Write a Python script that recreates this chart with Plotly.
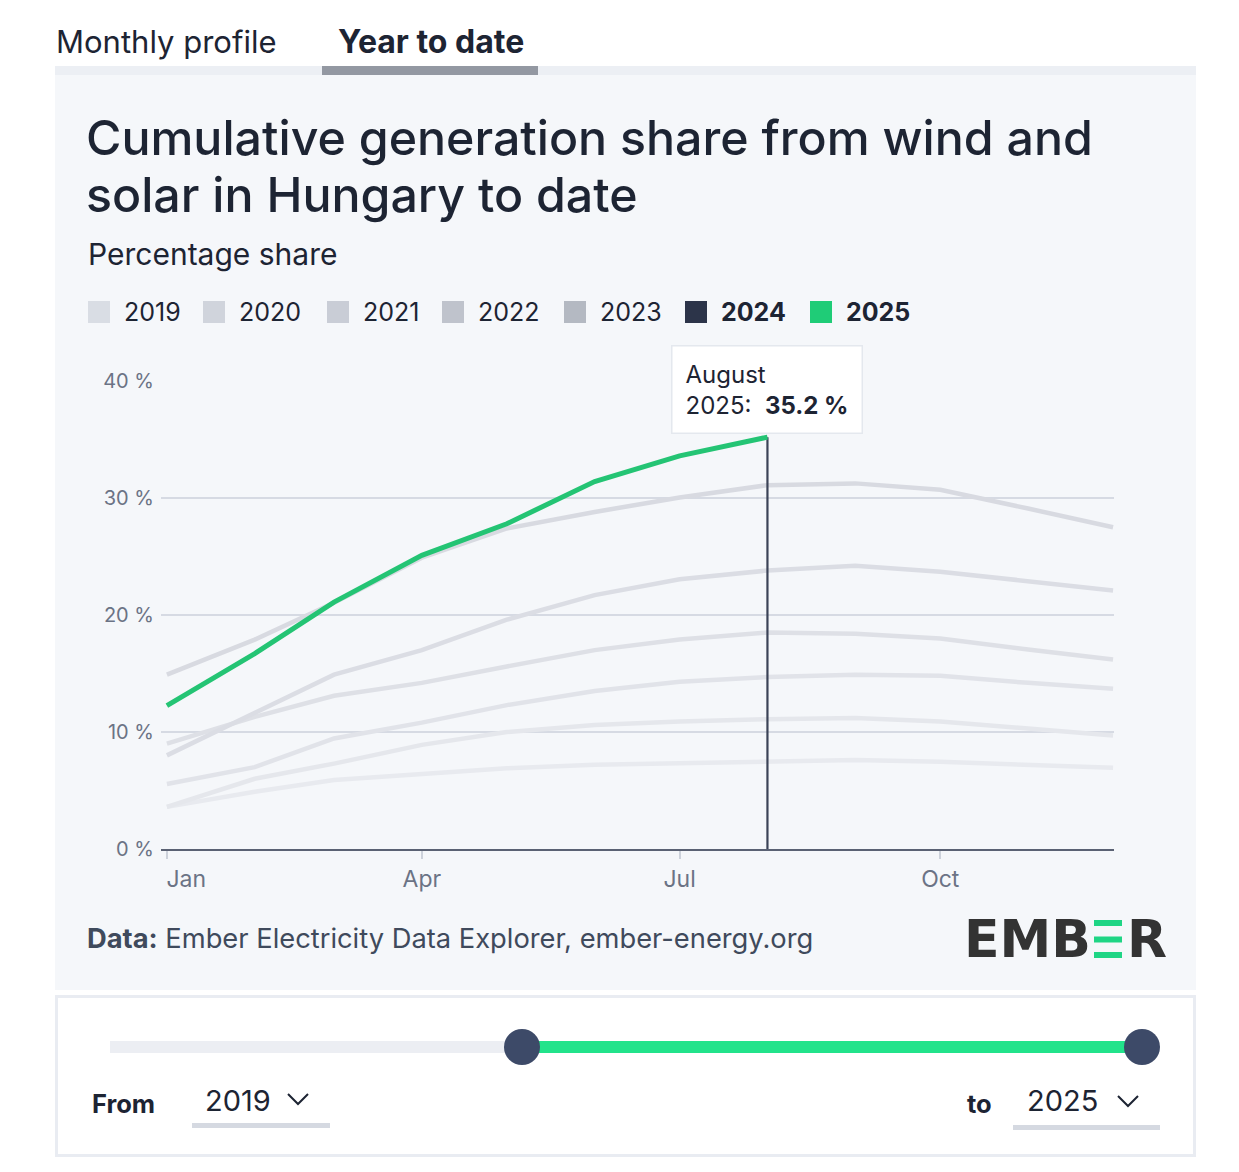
import plotly.graph_objects as go

WF, HF = 1223, 1156      # figure size (page body has an 8px margin)
OFF = 8
FONT = "Inter"

# ---------------- data ----------------
months = ["2025-01-01", "2025-02-01", "2025-03-01", "2025-04-01", "2025-05-01", "2025-06-01",
          "2025-07-01", "2025-08-01", "2025-09-01", "2025-10-01", "2025-11-01", "2025-12-01"]
month_names = ["January", "February", "March", "April", "May", "June", "July",
               "August", "September", "October", "November", "December"]
years = ["2019", "2020", "2021", "2022", "2023", "2024", "2025"]

share_2019 = [3.6, 4.9, 5.9, 6.45, 6.9, 7.2, 7.3, 7.45, 7.6, 7.45, 7.2, 6.95]
share_2020 = [3.6, 6.0, 7.3, 8.9, 10.0, 10.6, 10.9, 11.1, 11.2, 10.9, 10.3, 9.7]
share_2021 = [5.55, 7.0, 9.45, 10.8, 12.3, 13.5, 14.3, 14.7, 14.9, 14.8, 14.2, 13.7]
share_2022 = [9.0, 11.3, 13.1, 14.2, 15.6, 17.0, 17.9, 18.5, 18.4, 18.0, 17.05, 16.2]
share_2023 = [8.0, 11.6, 14.9, 17.0, 19.6, 21.7, 23.05, 23.8, 24.2, 23.7, 22.9, 22.1]
share_2024 = [14.9, 17.9, 21.05, 24.9, 27.4, 28.8, 30.05, 31.1, 31.25, 30.7, 29.1, 27.5]
share_2025 = [12.25, 16.7, 21.1, 25.1, 27.8, 31.4, 33.6, 35.2]

series = [share_2019, share_2020, share_2021, share_2022, share_2023, share_2024, share_2025]

y_tickvals = [0, 10, 20, 30, 40]
y_ticktext = ["0 %", "10 %", "20 %", "30 %", "40 %"]
x_tickvals = ["2025-01-01", "2025-04-01", "2025-07-01", "2025-10-01"]
x_ticktext = ["\u00a0\u00a0\u00a0\u00a0\u00a0\u00a0Jan", "Apr", "Jul", "Oct"]

# ---------------- styles ----------------
line_colors = ["#e8eaef", "#e5e7ec", "#e1e3e9", "#dee0e6", "#dbdde4", "#d8dae1"]
legend_colors = ["#d9dde4", "#d0d4dc", "#c9cdd6", "#bfc3cc", "#b4b9c2", "#2c3449", "#1fcc77"]
GREEN = "#24c474"
DARK = "#1d2433"


def px(x):
    return (x - OFF) / WF


def py(y):
    return 1 - (y - OFF) / HF


fig = go.Figure()

for yr, vals, col in zip(years[:-1], series[:-1], line_colors):
    fig.add_trace(go.Scatter(x=months[:len(vals)], y=vals, mode="lines", name=yr,
                             line=dict(color=col, width=4.5), showlegend=False,
                             hoverinfo="skip"))

last_i = len(share_2025) - 1
fig.add_trace(go.Scatter(x=[months[last_i], months[last_i]], y=[0, share_2025[last_i]],
                         mode="lines", line=dict(color="#3b4357", width=2.2),
                         showlegend=False, hoverinfo="skip"))
fig.add_trace(go.Scatter(x=months[:len(share_2025)], y=share_2025, mode="lines", name="2025",
                         line=dict(color=GREEN, width=5), showlegend=False))

shapes = []
annotations = []


def text(t, x, y, size, color=DARK, anchor="left", family=FONT, weight=None):
    f = dict(family=family, size=size, color=color)
    if weight:
        f["weight"] = weight
    annotations.append(dict(text=t, x=px(x), y=py(y), xref="paper", yref="paper",
                            xanchor=anchor, yanchor="middle", showarrow=False, font=f))


def rect(x0, y0, x1, y1, color, layer="above"):
    shapes.append(dict(type="rect", xref="paper", yref="paper", x0=px(x0), x1=px(x1),
                       y0=py(y1), y1=py(y0), fillcolor=color, line=dict(width=0), layer=layer))


# card background & tabs
rect(55, 75, 1196, 990, "#f5f7fa", "below")
rect(55, 66, 1196, 75, "#eceff4", "below")
rect(322, 66, 538, 75, "#9398a2", "below")
text("Monthly profile", 54, 41, 31)
text("<b>Year to date</b>", 336, 41, 32)

# title
text("Cumulative generation share from wind and", 84, 137, 48.3, weight=500)
text("solar in Hungary to date", 84, 194, 48.3, weight=500)
text("Percentage share", 86, 254, 30)

# legend
leg_x = [88, 203, 327, 442, 564, 685, 810]
for yr, col, lx in zip(years, legend_colors, leg_x):
    rect(lx, 301, lx + 22, 323, col)
    bold = yr in ("2024", "2025")
    text(f"<b>{yr}</b>" if bold else yr, lx + 34, 312, 25)

# tooltip
annotations.append(dict(text=f"{month_names[last_i]}<br>{years[-1]}:  <b>{share_2025[last_i]} %</b>",
                        x=months[last_i], y=share_2025[last_i], xref="x", yref="y",
                        xanchor="center", yanchor="bottom", yshift=3, showarrow=False,
                        align="left", bgcolor="white", bordercolor="#e4e8ee", borderwidth=1.5,
                        borderpad=13, font=dict(family=FONT, size=24, color=DARK)))

# source
text("<b>Data:</b> Ember Electricity Data Explorer, ember-energy.org", 85, 938, 27.3, color="#3f4a5c")

# logo
text("<b>EMB</b>", 1093, 939, 52, color="#333333", anchor="right", family="DejaVu Sans")
text("<b>R</b>", 1125, 939, 52, color="#333333", family="DejaVu Sans")
for y0 in (920, 936.5, 952):
    rect(1094, y0, 1122, y0 + 6, "#1fd585")

# slider panel
shapes.append(dict(type="rect", xref="paper", yref="paper", x0=px(56.5), x1=px(1194.5),
                   y0=py(1155.5), y1=py(996.5), fillcolor="white",
                   line=dict(color="#e9ecf2", width=3)))
shapes.append(dict(type="line", xref="paper", yref="paper", x0=px(110), x1=px(522),
                   y0=py(1047), y1=py(1047), line=dict(color="#eceef3", width=12)))
shapes.append(dict(type="line", xref="paper", yref="paper", x0=px(522), x1=px(1142),
                   y0=py(1047), y1=py(1047), line=dict(color="#22e38b", width=12)))
for cx in (522, 1142):
    shapes.append(dict(type="circle", xref="paper", yref="paper", x0=px(cx - 18), x1=px(cx + 18),
                       y0=py(1065), y1=py(1029), fillcolor="#3d4a68", line=dict(width=0)))
text("<b>From</b>", 90, 1103, 25.5)
text(years[0], 203, 1100, 29)
text("<b>to</b>", 965, 1103, 25.5)
text(years[-1], 1025, 1100, 29)
for cx, cy in ((298, 1099), (1128, 1101)):
    shapes.append(dict(type="path", xref="paper", yref="paper",
                       path=f"M {px(cx-10)},{py(cy-5)} L {px(cx)},{py(cy+5)} L {px(cx+10)},{py(cy-5)}",
                       line=dict(color=DARK, width=2)))
for x0, x1, yy in ((192, 330, 1125.5), (1013, 1160, 1127.5)):
    shapes.append(dict(type="line", xref="paper", yref="paper", x0=px(x0), x1=px(x1),
                       y0=py(yy), y1=py(yy), line=dict(color="#d5d9e1", width=5)))

fig.update_layout(
    width=WF, height=HF, margin=dict(l=0, r=0, t=0, b=0, pad=0), autosize=False,
    paper_bgcolor="white", plot_bgcolor="rgba(0,0,0,0)",
    shapes=shapes, annotations=annotations, showlegend=False,
    xaxis=dict(domain=[px(161), px(1114)], type="date", automargin=False,
               range=["2024-12-29 22:00", "2025-12-01 08:00"],
               showgrid=False, zeroline=False, showline=True, linecolor="#5a6173", linewidth=2,
               ticks="outside", ticklen=8, tickwidth=1.5, tickcolor="#cdd2db",
               tickvals=x_tickvals, ticktext=x_ticktext,
               tickfont=dict(family=FONT, size=23, color="#6b7385")),
    yaxis=dict(domain=[py(849), py(381)], range=[0, 40], tickvals=y_tickvals, ticktext=y_ticktext,
               automargin=False,
               showgrid=True, gridcolor="#d6dae3", gridwidth=1.5, zeroline=False, showline=False,
               ticks="", ticklabelstandoff=6,
               tickfont=dict(family=FONT, size=20, color="#6b7385")),
)

fig.write_html("out.html")
